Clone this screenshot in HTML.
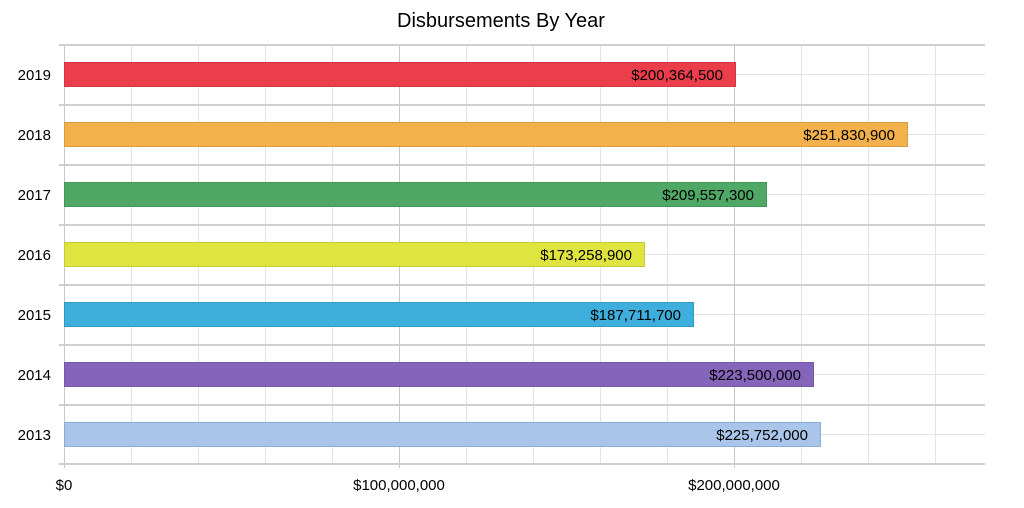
<!DOCTYPE html>
<html><head><meta charset="utf-8"><style>
html,body{margin:0;padding:0;background:#fff;}
svg{display:block;font-family:"Liberation Sans",Arial,sans-serif;}
</style></head><body>
<svg width="1024" height="508" viewBox="0 0 1024 508">
<text x="501" y="27" text-anchor="middle" font-size="20" fill="#000">Disbursements By Year</text>
<g stroke="#e3e3e3" stroke-width="1">
<line x1="131.5" y1="44" x2="131.5" y2="463"/><line x1="198.5" y1="44" x2="198.5" y2="463"/>
<line x1="265.5" y1="44" x2="265.5" y2="463"/><line x1="332.5" y1="44" x2="332.5" y2="463"/>
<line x1="466.5" y1="44" x2="466.5" y2="463"/><line x1="533.5" y1="44" x2="533.5" y2="463"/>
<line x1="600.5" y1="44" x2="600.5" y2="463"/><line x1="667.5" y1="44" x2="667.5" y2="463"/>
<line x1="801.5" y1="44" x2="801.5" y2="463"/><line x1="868.5" y1="44" x2="868.5" y2="463"/>
<line x1="935.5" y1="44" x2="935.5" y2="463"/>
<line x1="64" y1="74.5" x2="985" y2="74.5"/><line x1="64" y1="134.5" x2="985" y2="134.5"/>
<line x1="64" y1="194.5" x2="985" y2="194.5"/><line x1="64" y1="254.5" x2="985" y2="254.5"/>
<line x1="64" y1="314.5" x2="985" y2="314.5"/><line x1="64" y1="374.5" x2="985" y2="374.5"/>
<line x1="64" y1="434.5" x2="985" y2="434.5"/>
</g>
<g stroke="#c8c8c8" stroke-width="1">
<line x1="399.5" y1="44" x2="399.5" y2="468"/><line x1="734.5" y1="44" x2="734.5" y2="468"/>
<line x1="64.5" y1="44" x2="64.5" y2="468"/>
</g>
<g stroke="#cfcfcf" stroke-width="2">
<line x1="59" y1="45" x2="985" y2="45"/><line x1="59" y1="105" x2="985" y2="105"/>
<line x1="59" y1="165" x2="985" y2="165"/><line x1="59" y1="225" x2="985" y2="225"/>
<line x1="59" y1="285" x2="985" y2="285"/><line x1="59" y1="345" x2="985" y2="345"/>
<line x1="59" y1="405" x2="985" y2="405"/><line x1="59" y1="464" x2="985" y2="464"/>
</g>
<g stroke-width="1">
<rect x="64.5" y="62.5" width="671" height="24" fill="#eb3e4a" stroke="#d23642"/>
<rect x="64.5" y="122.5" width="843" height="24" fill="#f2b14a" stroke="#d89b3e"/>
<rect x="64.5" y="182.5" width="702" height="24" fill="#4fa865" stroke="#43955a"/>
<rect x="64.5" y="242.5" width="580" height="24" fill="#dfe43e" stroke="#c5ca3a"/>
<rect x="64.5" y="302.5" width="629" height="24" fill="#3eafdc" stroke="#3399c2"/>
<rect x="64.5" y="362.5" width="749" height="24" fill="#8465b9" stroke="#7459a4"/>
<rect x="64.5" y="422.5" width="756" height="24" fill="#a9c6ea" stroke="#8eabd2"/>
</g>
<g font-size="15" fill="#000" text-anchor="end">
<text x="723" y="80">$200,364,500</text>
<text x="895" y="140">$251,830,900</text>
<text x="754" y="200">$209,557,300</text>
<text x="632" y="260">$173,258,900</text>
<text x="681" y="320">$187,711,700</text>
<text x="801" y="380">$223,500,000</text>
<text x="808" y="440">$225,752,000</text>
</g>
<g font-size="15" fill="#000" text-anchor="end">
<text x="51" y="80">2019</text><text x="51" y="140">2018</text><text x="51" y="200">2017</text>
<text x="51" y="260">2016</text><text x="51" y="320">2015</text><text x="51" y="380">2014</text>
<text x="51" y="440">2013</text>
</g>
<g font-size="15" fill="#000" text-anchor="middle">
<text x="64" y="490">$0</text><text x="399" y="490">$100,000,000</text><text x="734" y="490">$200,000,000</text>
</g>
</svg>
</body></html>
